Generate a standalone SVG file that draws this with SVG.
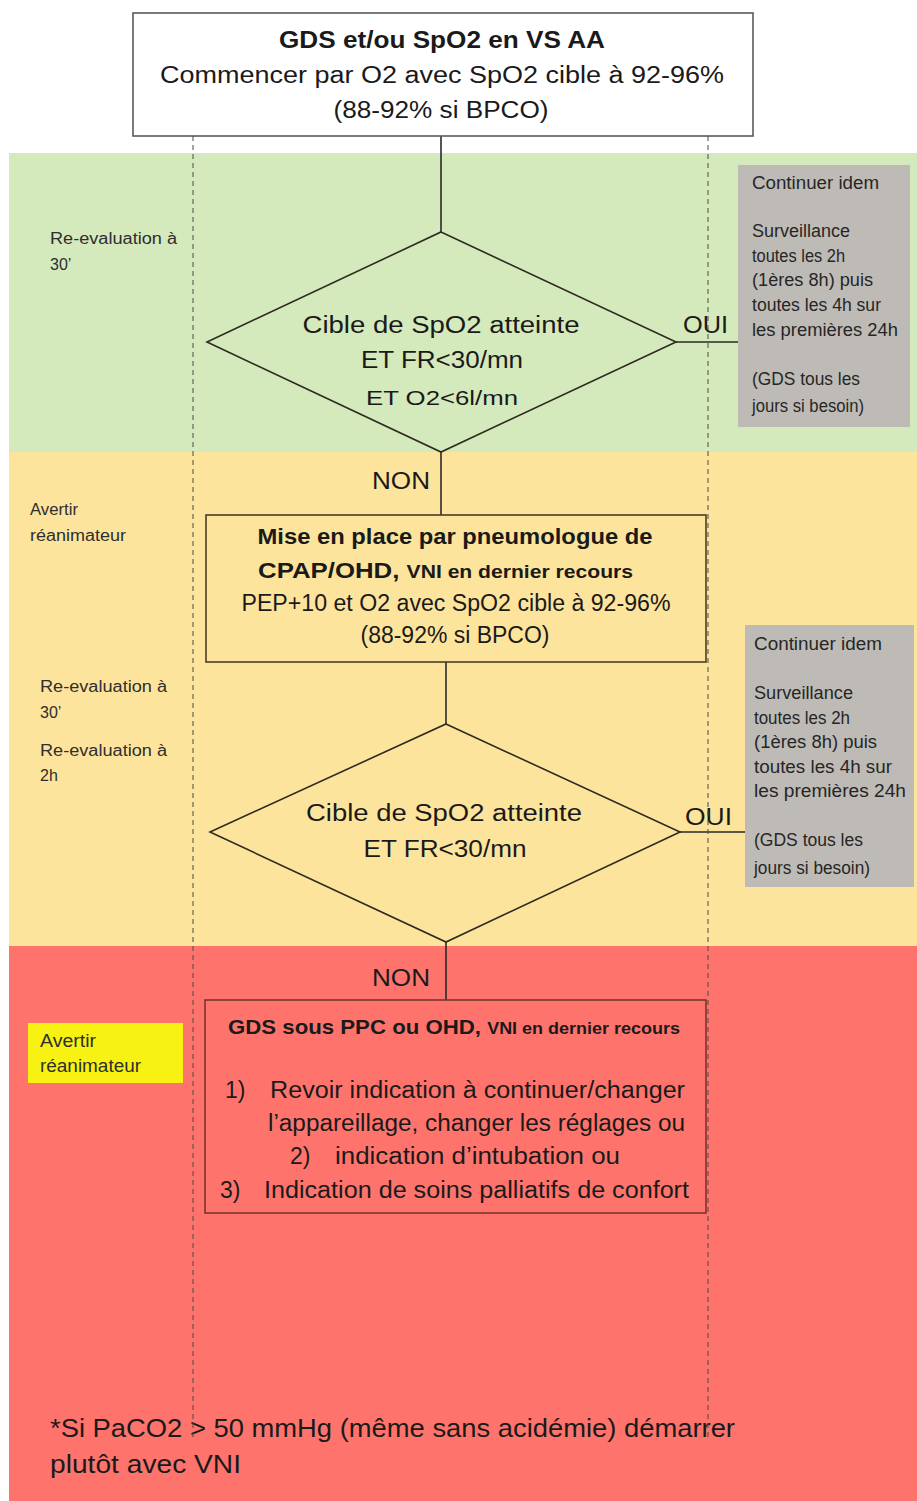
<svg xmlns="http://www.w3.org/2000/svg" width="917" height="1501" viewBox="0 0 917 1501">
<style>
text{font-family:"Liberation Sans","DejaVu Sans",sans-serif;fill:#1a1a1a}
.b{font-weight:bold}
.main{font-size:23px}
.side{font-size:16px;fill:#2e2e2e}
.grey{font-size:17.5px;fill:#262626}
.mid{text-anchor:middle}
.shape{fill:none;stroke:#2f2a20;stroke-width:1.6}
.conn{stroke:#2a2a2a;stroke-width:1.6;fill:none}
.dash{stroke:#4a4a4a;stroke-width:1;stroke-dasharray:5 4;fill:none}
</style>
<rect width="917" height="1501" fill="#ffffff"/>
<g id="bands">
<rect x="9" y="153" width="908" height="299" fill="#d4e9bc"/>
<rect x="9" y="452" width="908" height="494" fill="#fde49c"/>
<rect x="9" y="946" width="908" height="555" fill="#fe746d"/>
</g>
<g id="connectors">
<line class="conn" x1="441" y1="136" x2="441" y2="232"/>
<line class="conn" x1="676" y1="342" x2="738" y2="342"/>
<line class="conn" x1="441" y1="452" x2="441" y2="515"/>
<line class="conn" x1="446" y1="662" x2="446" y2="724"/>
<line class="conn" x1="680" y1="832" x2="745" y2="832"/>
<line class="conn" x1="446" y1="942" x2="446" y2="1000"/>
</g>
<g id="start">
<rect x="133" y="13" width="620" height="123" fill="#ffffff" stroke="#5a5a5a" stroke-width="1.6"/>
<text class="main b mid" x="442" y="48" textLength="326" lengthAdjust="spacingAndGlyphs">GDS et/ou SpO2 en VS AA</text>
<text class="main mid" x="442" y="83" textLength="564" lengthAdjust="spacingAndGlyphs">Commencer par O2 avec SpO2 cible à 92-96%</text>
<text class="main mid" x="441" y="118" textLength="215" lengthAdjust="spacingAndGlyphs">(88-92% si BPCO)</text>
</g>
<g id="label-green">
<text class="side" x="50" y="244" textLength="127" lengthAdjust="spacingAndGlyphs">Re-evaluation à</text>
<text class="side" x="50" y="270">30’</text>
</g>
<g id="decision1">
<polygon class="shape" points="441,232 676,342 441,452 207,342"/>
<text class="main mid" x="441" y="333" textLength="277" lengthAdjust="spacingAndGlyphs">Cible de SpO2 atteinte</text>
<text class="main mid" x="442" y="368" textLength="162" lengthAdjust="spacingAndGlyphs">ET FR&lt;30/mn</text>
<text class="mid" style="font-size:21px" x="442" y="405" textLength="152" lengthAdjust="spacingAndGlyphs">ET O2&lt;6l/mn</text>
<text class="main" x="683" y="333" textLength="45" lengthAdjust="spacingAndGlyphs">OUI</text>
</g>
<g id="continue1">
<rect x="738" y="165" width="172" height="262" fill="#bebbb6"/>
<text class="grey" x="752" y="189" textLength="127" lengthAdjust="spacingAndGlyphs">Continuer idem</text>
<text class="grey" x="752" y="237" textLength="98" lengthAdjust="spacingAndGlyphs">Surveillance</text>
<text class="grey" x="752" y="262" textLength="93" lengthAdjust="spacingAndGlyphs">toutes les 2h</text>
<text class="grey" x="752" y="286" textLength="121" lengthAdjust="spacingAndGlyphs">(1ères 8h) puis</text>
<text class="grey" x="752" y="311" textLength="129" lengthAdjust="spacingAndGlyphs">toutes les 4h sur</text>
<text class="grey" x="752" y="336" textLength="146" lengthAdjust="spacingAndGlyphs">les premières 24h</text>
<text class="grey" x="752" y="385" textLength="108" lengthAdjust="spacingAndGlyphs">(GDS tous les</text>
<text class="grey" x="752" y="412" textLength="112" lengthAdjust="spacingAndGlyphs">jours si besoin)</text>
</g>
<g id="non1">
<text class="main" x="372" y="489" textLength="58" lengthAdjust="spacingAndGlyphs">NON</text>
</g>
<g id="label-yellow">
<text class="side" x="30" y="515" textLength="48" lengthAdjust="spacingAndGlyphs">Avertir</text>
<text class="side" x="30" y="541" textLength="96" lengthAdjust="spacingAndGlyphs">réanimateur</text>
<text class="side" x="40" y="692" textLength="127" lengthAdjust="spacingAndGlyphs">Re-evaluation à</text>
<text class="side" x="40" y="718">30’</text>
<text class="side" x="40" y="756" textLength="127" lengthAdjust="spacingAndGlyphs">Re-evaluation à</text>
<text class="side" x="40" y="781">2h</text>
</g>
<g id="cpap">
<rect x="206" y="515" width="500" height="147" fill="none" stroke="#4a3c26" stroke-width="1.6"/>
<text class="b mid" style="font-size:22px" x="455" y="544" textLength="395" lengthAdjust="spacingAndGlyphs">Mise en place par pneumologue de</text>
<text class="b" x="258" y="578" textLength="375" lengthAdjust="spacingAndGlyphs"><tspan style="font-size:22px">CPAP/OHD, </tspan><tspan style="font-size:18px">VNI en dernier recours</tspan></text>
<text class="main mid" x="456" y="611" textLength="429" lengthAdjust="spacingAndGlyphs">PEP+10 et O2 avec SpO2 cible à 92-96%</text>
<text class="main mid" x="455" y="643" textLength="189" lengthAdjust="spacingAndGlyphs">(88-92% si BPCO)</text>
</g>
<g id="continue2">
<rect x="745" y="625" width="169" height="262" fill="#bebbb6"/>
<text class="grey" x="754" y="650" textLength="128" lengthAdjust="spacingAndGlyphs">Continuer idem</text>
<text class="grey" x="754" y="699" textLength="99" lengthAdjust="spacingAndGlyphs">Surveillance</text>
<text class="grey" x="754" y="724" textLength="96" lengthAdjust="spacingAndGlyphs">toutes les 2h</text>
<text class="grey" x="754" y="748" textLength="123" lengthAdjust="spacingAndGlyphs">(1ères 8h) puis</text>
<text class="grey" x="754" y="773" textLength="138" lengthAdjust="spacingAndGlyphs">toutes les 4h sur</text>
<text class="grey" x="754" y="797" textLength="152" lengthAdjust="spacingAndGlyphs">les premières 24h</text>
<text class="grey" x="754" y="846" textLength="109" lengthAdjust="spacingAndGlyphs">(GDS tous les</text>
<text class="grey" x="754" y="874" textLength="116" lengthAdjust="spacingAndGlyphs">jours si besoin)</text>
</g>
<g id="decision2">
<polygon class="shape" points="446,724 680,832 446,942 210,832"/>
<text class="main mid" x="444" y="821" textLength="276" lengthAdjust="spacingAndGlyphs">Cible de SpO2 atteinte</text>
<text class="main mid" x="445" y="857" textLength="163" lengthAdjust="spacingAndGlyphs">ET FR&lt;30/mn</text>
<text class="main" x="685" y="825" textLength="47" lengthAdjust="spacingAndGlyphs">OUI</text>
</g>
<g id="non2">
<text class="main" x="372" y="986" textLength="58" lengthAdjust="spacingAndGlyphs">NON</text>
</g>
<g id="label-red">
<rect x="28" y="1023" width="155" height="60" fill="#f8f212"/>
<text class="side" style="font-size:17.5px" x="40" y="1047" textLength="56" lengthAdjust="spacingAndGlyphs">Avertir</text>
<text class="side" style="font-size:17.5px" x="40" y="1072" textLength="101" lengthAdjust="spacingAndGlyphs">réanimateur</text>
</g>
<g id="ppc">
<rect x="205" y="1000" width="501" height="213" fill="none" stroke="#7a3430" stroke-width="1.6"/>
<text class="b" x="228" y="1034" textLength="452" lengthAdjust="spacingAndGlyphs"><tspan style="font-size:21px">GDS sous PPC ou OHD, </tspan><tspan style="font-size:17px">VNI en dernier recours</tspan></text>
<text class="main" x="225" y="1098">1)</text>
<text class="main" x="270" y="1098" textLength="415" lengthAdjust="spacingAndGlyphs">Revoir indication à continuer/changer</text>
<text class="main" x="268" y="1131" textLength="417" lengthAdjust="spacingAndGlyphs">l’appareillage, changer les réglages ou</text>
<text class="main" x="290" y="1164">2)</text>
<text class="main" x="335" y="1164" textLength="285" lengthAdjust="spacingAndGlyphs">indication d’intubation ou</text>
<text class="main" x="220" y="1198">3)</text>
<text class="main" x="264" y="1198" textLength="425" lengthAdjust="spacingAndGlyphs">Indication de soins palliatifs de confort</text>
</g>
<g id="footnote">
<text style="font-size:26px" x="50" y="1437" textLength="685" lengthAdjust="spacingAndGlyphs">*Si PaCO2 &gt; 50 mmHg (même sans acidémie) démarrer</text>
<text style="font-size:26px" x="50" y="1473" textLength="191" lengthAdjust="spacingAndGlyphs">plutôt avec VNI</text>
</g>
<g id="guides">
<line class="dash" x1="193" y1="136" x2="193" y2="1440"/>
<line class="dash" x1="708" y1="136" x2="708" y2="1440"/>
</g>
</svg>
